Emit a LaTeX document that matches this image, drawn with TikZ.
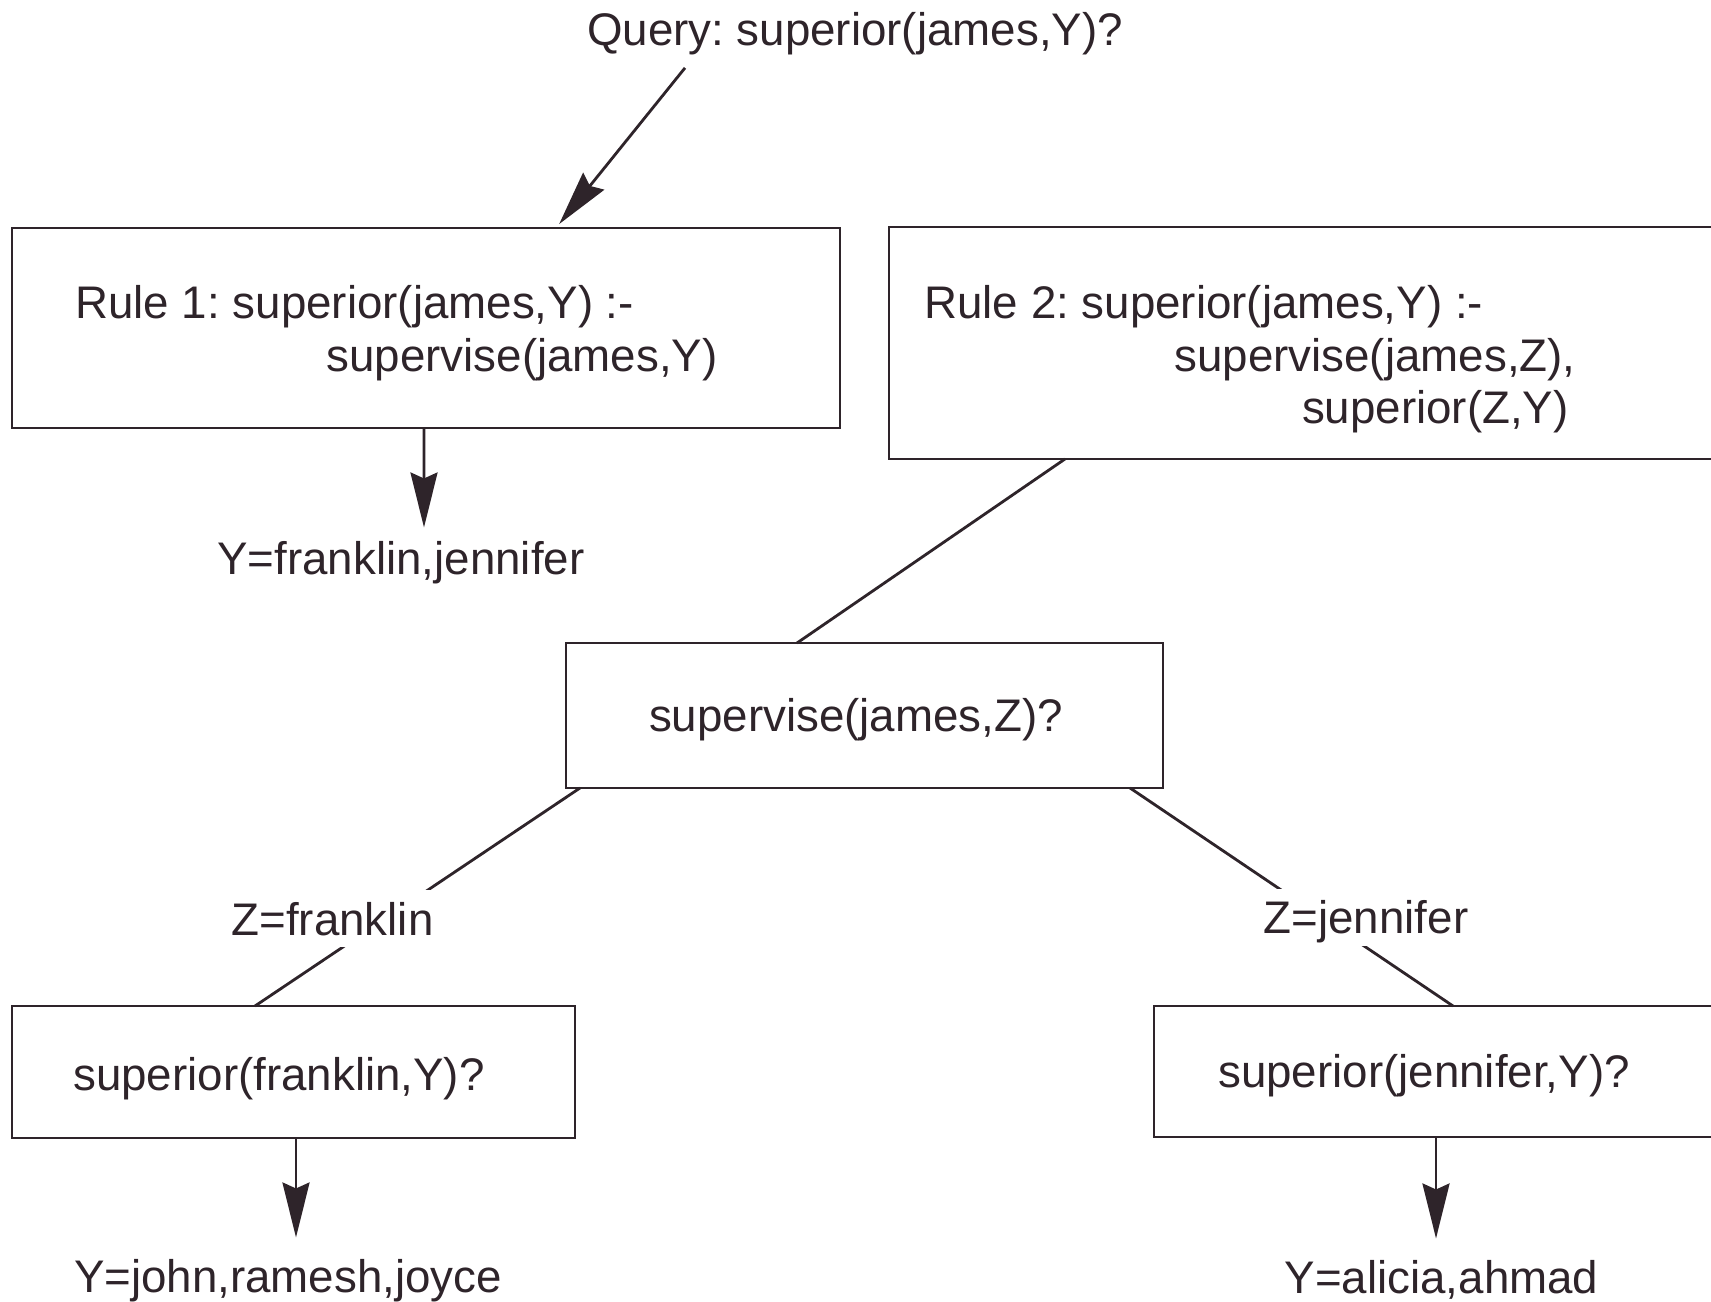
\documentclass[tikz,border=0pt]{standalone}
\usepackage{fontspec}
\setmainfont{Liberation Sans}
\usetikzlibrary{arrows.meta}
\definecolor{ink}{RGB}{46,36,42}
\frenchspacing

\begin{document}
\begin{tikzpicture}[x=0.1mm,y=-0.1mm,font=\fontsize{13}{15.6}\selectfont,color=ink,line width=0.8pt]
\tikzstyle{box}=[rectangle,draw=ink,inner sep=0pt,outer sep=0pt]
\tikzstyle{txt}=[inner sep=0pt,text=ink]
\tikzstyle{answer}=[inner sep=1.3mm,text=ink,anchor=base]
\tikzstyle{binding}=[fill=white,inner sep=1.2mm,text depth=0pt,text=ink,anchor=base]
\tikzstyle{arr}=[draw=ink,-{Stealth[length=5.5mm,width=2.7mm,inset=0.6mm]}]
\tikzstyle{link}=[draw=ink]
\useasboundingbox (0,0) rectangle (1711,1302);
\clip (0,0) rectangle (1711,1302);

% boxes
\node[box,minimum width=82.8mm,minimum height=20mm] at (426,328) (r1) {};
\node[box,minimum width=84.1mm,minimum height=23.2mm] at (1309.5,343) (r2) {};
\node[box,minimum width=59.7mm,minimum height=14.5mm] at (864.5,715.5) (s) {};
\node[box,minimum width=56.3mm,minimum height=13.2mm] at (293.5,1072) (f) {};
\node[box,minimum width=57.6mm,minimum height=13.1mm] at (1442,1071.5) (j) {};

% texts
\node[txt,anchor=base,inner sep=1.1mm] at (855,46) (q) {Query: superior(james,Y)?};
\node[txt,anchor=base west] at (74,319) (r1a) {Rule 1: superior(james,Y) :-};
\node[txt,anchor=base east] at (719,372) (r1b) {supervise(james,Y)};
\node[txt,anchor=base west] at (923,319) (r2a) {Rule 2: superior(james,Y) :-};
\node[txt,anchor=base east] at (1577,372) (r2b) {supervise(james,Z),};
\node[txt,anchor=base east] at (1570,424) (r2c) {superior(Z,Y)};
\node[txt,anchor=base] at (856,732) (sa) {supervise(james,Z)?};
\node[txt,anchor=base] at (279,1090) (fa) {superior(franklin,Y)?};
\node[txt,anchor=base] at (1424,1087) (ja) {superior(jennifer,Y)?};

\node[answer] at (401,575) (a1) {Y=franklin,jennifer};
\node[answer,inner sep=2mm] at (288,1292) (af) {Y=john,ramesh,joyce};
\node[answer,inner sep=2mm] at (1441.5,1293) (aj) {Y=alicia,ahmad};

% arrows
\draw[arr,shorten >=0.5mm] ([xshift=-17mm]q.south) -- ([xshift=13mm]r1.north);
\draw[arr] ([xshift=-0.2mm]r1.south) -- ([xshift=2.3mm]a1.north);
\draw[arr] ([xshift=0.25mm]f.south) -- ([xshift=0.8mm]af.north);
\draw[arr] ([xshift=-0.6mm]j.south) -- ([xshift=-0.55mm]aj.north);

% links
\draw[link] ([xshift=17.6mm]r2.south west) -- ([xshift=-6.75mm]s.north);
\draw[link] ([xshift=1.4mm]s.south west) -- ([xshift=-3.85mm]f.north);
\draw[link] ([xshift=-3.3mm]s.south east) -- ([xshift=1.1mm]j.north);

\node[binding] at (332.5,935) (zf) {Z=franklin};
\node[binding] at (1366,934) (zj) {Z=jennifer};

\end{tikzpicture}
\end{document}
